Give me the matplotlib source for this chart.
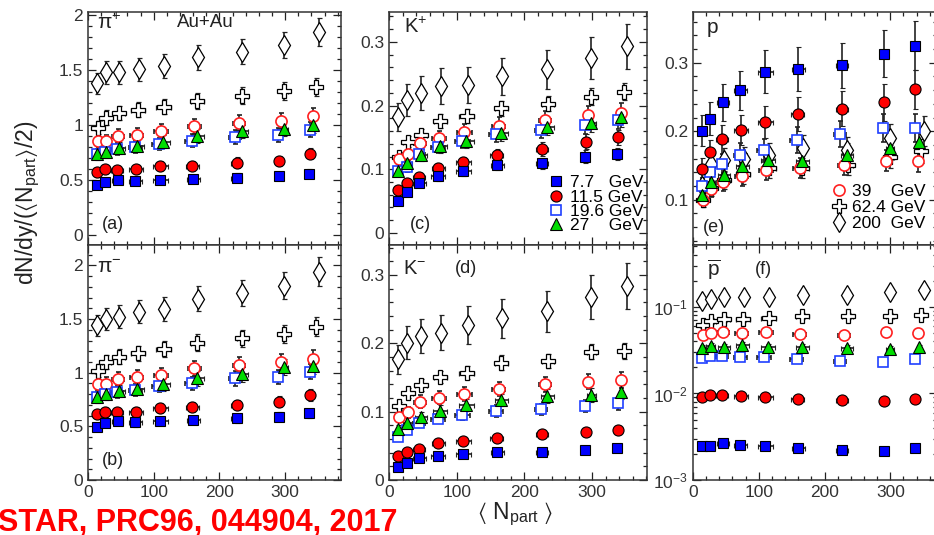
import matplotlib
matplotlib.use('Agg')
import matplotlib.pyplot as plt
from matplotlib.ticker import MultipleLocator, FormatStrFormatter, LogLocator, NullFormatter
from matplotlib.lines import Line2D

plt.rcParams['font.family'] = ['Liberation Sans', 'DejaVu Sans']
plt.rcParams['mathtext.fontset'] = 'custom'
plt.rcParams['mathtext.rm'] = 'Liberation Sans'
plt.rcParams['mathtext.it'] = 'Liberation Sans:italic'
plt.rcParams['mathtext.bf'] = 'Liberation Sans:bold'
plt.rcParams['mathtext.fallback'] = 'stixsans'

# ---- data -------------------------------------------------------------------
energies = ['7.7', '11.5', '19.6', '27', '39', '62.4', '200']

npart = {
    '7.7':  [14, 26, 45, 72, 110, 160, 226, 290, 337],
    '11.5': [14, 26, 44, 73, 110, 159, 226, 291, 338],
    '19.6': [14, 26, 44, 72, 108, 158, 224, 289, 338],
    '27':   [14, 27, 47, 75, 114, 166, 234, 299, 343],
    '39':   [15, 28, 46, 74, 111, 162, 230, 294, 342],
    '62.4': [15, 28, 47, 76, 115, 166, 235, 299, 347],
    '200':  [14, 27, 47, 77, 116, 167, 234, 299, 351],
}
npart_err = [4, 7, 9, 10, 11, 10, 9, 6, 2]

pi_plus = {
    '7.7':  [0.46, 0.485, 0.50, 0.49, 0.50, 0.515, 0.524, 0.54, 0.56],
    '11.5': [0.57, 0.597, 0.59, 0.597, 0.627, 0.63, 0.66, 0.676, 0.74],
    '19.6': [0.736, 0.758, 0.78, 0.80, 0.83, 0.858, 0.89, 0.91, 0.96],
    '27':   [0.736, 0.758, 0.79, 0.81, 0.85, 0.90, 0.95, 0.97, 1.0],
    '39':   [0.855, 0.855, 0.90, 0.91, 0.945, 0.99, 1.02, 1.04, 1.08],
    '62.4': [0.976, 1.07, 1.11, 1.14, 1.17, 1.22, 1.27, 1.31, 1.35],
    '200':  [1.38, 1.48, 1.48, 1.51, 1.54, 1.62, 1.67, 1.73, 1.85],
}
pi_minus = {
    '7.7':  [0.496, 0.533, 0.549, 0.536, 0.549, 0.558, 0.574, 0.589, 0.62],
    '11.5': [0.614, 0.636, 0.63, 0.636, 0.673, 0.68, 0.70, 0.73, 0.79],
    '19.6': [0.775, 0.80, 0.82, 0.84, 0.877, 0.90, 0.946, 0.96, 1.01],
    '27':   [0.775, 0.80, 0.83, 0.85, 0.89, 0.946, 0.986, 1.05, 1.06],
    '39':   [0.893, 0.893, 0.94, 0.96, 0.977, 1.04, 1.07, 1.10, 1.13],
    '62.4': [1.017, 1.10, 1.15, 1.18, 1.22, 1.28, 1.32, 1.36, 1.43],
    '200':  [1.44, 1.50, 1.52, 1.57, 1.59, 1.69, 1.74, 1.81, 1.94],
}
k_plus = {
    '7.7':  [0.0496, 0.0636, 0.079, 0.0887, 0.0965, 0.107, 0.1095, 0.12, 0.124],
    '11.5': [0.0668, 0.078, 0.0876, 0.1017, 0.1106, 0.1226, 0.132, 0.1435, 0.15],
    '19.6': [0.0965, 0.104, 0.124, 0.1356, 0.145, 0.155, 0.1617, 0.1695, 0.177],
    '27':   [0.0965, 0.1095, 0.1226, 0.1367, 0.145, 0.1565, 0.167, 0.172, 0.1815],
    '39':   [0.1158, 0.124, 0.142, 0.1487, 0.159, 0.168, 0.178, 0.185, 0.189],
    '62.4': [0.12, 0.143, 0.154, 0.176, 0.184, 0.196, 0.203, 0.214, 0.222],
    '200':  [0.1815, 0.2087, 0.22, 0.2306, 0.232, 0.246, 0.2567, 0.2754, 0.293],
}
k_minus = {
    '7.7':  [0.0185, 0.0254, 0.0317, 0.0351, 0.038, 0.0415, 0.0415, 0.0439, 0.0463],
    '11.5': [0.035, 0.0415, 0.046, 0.0546, 0.0576, 0.061, 0.0668, 0.0707, 0.073],
    '19.6': [0.0634, 0.073, 0.084, 0.090, 0.095, 0.101, 0.1034, 0.108, 0.112],
    '27':   [0.074, 0.084, 0.0927, 0.101, 0.1098, 0.117, 0.123, 0.1244, 0.129],
    '39':   [0.0927, 0.099, 0.1146, 0.1205, 0.126, 0.133, 0.14, 0.144, 0.147],
    '62.4': [0.108, 0.127, 0.139, 0.151, 0.157, 0.172, 0.174, 0.188, 0.189],
    '200':  [0.1766, 0.201, 0.211, 0.2156, 0.2268, 0.2366, 0.247, 0.268, 0.284],
}
proton = {
    '7.7':  [0.201, 0.218, 0.242, 0.26, 0.287, 0.291, 0.296, 0.313, 0.325],
    '11.5': [0.145, 0.169, 0.188, 0.202, 0.214, 0.225, 0.233, 0.242, 0.261],
    '19.6': [0.12, 0.14, 0.152, 0.166, 0.172, 0.187, 0.196, 0.205, 0.205],
    '27':   [0.107, 0.126, 0.136, 0.15, 0.158, 0.156, 0.166, 0.176, 0.185],
    '39':   [0.10, 0.115, 0.126, 0.134, 0.143, 0.146, 0.151, 0.157, 0.156],
    '62.4': [0.10, 0.117, 0.129, 0.137, 0.146, 0.146, 0.151, 0.163, 0.171],
    '200':  [0.12, 0.152, 0.158, 0.16, 0.165, 0.175, 0.172, 0.19, 0.2],
}
antiproton = {
    '7.7':  [0.00247, 0.00247, 0.0027, 0.00253, 0.00247, 0.00232, 0.00222, 0.00218, 0.00232],
    '11.5': [0.0092, 0.0096, 0.0096, 0.0093, 0.0092, 0.0087, 0.0085, 0.0082, 0.0087],
    '19.6': [0.026, 0.027, 0.027, 0.0265, 0.0265, 0.0247, 0.0238, 0.0232, 0.0247],
    '27':   [0.0336, 0.0355, 0.0347, 0.0367, 0.0347, 0.0347, 0.0336, 0.033, 0.034],
    '39':   [0.047, 0.05, 0.0515, 0.05, 0.0515, 0.0484, 0.047, 0.0515, 0.05],
    '62.4': [0.0616, 0.069, 0.072, 0.073, 0.075, 0.078, 0.078, 0.078, 0.080],
    '200':  [0.117, 0.125, 0.130, 0.130, 0.130, 0.136, 0.136, 0.149, 0.155],
}

# relative uncertainty per energy
err_pi = {'7.7': 0.07, '11.5': 0.07, '19.6': 0.07, '27': 0.07, '39': 0.07, '62.4': 0.06, '200': 0.07}
err_k = {'7.7': 0.08, '11.5': 0.08, '19.6': 0.08, '27': 0.08, '39': 0.08, '62.4': 0.06, '200': 0.12}
err_p = {'7.7': 0.11, '11.5': 0.11, '19.6': 0.10, '27': 0.10, '39': 0.10, '62.4': 0.10, '200': 0.11}
err_pbar = {'7.7': 0.08, '11.5': 0.08, '19.6': 0.08, '27': 0.08, '39': 0.08, '62.4': 0.08, '200': 0.08}

# marker style per energy
style = {
    '7.7':  dict(marker='s', ms=7.5, mfc='#0000ff', mec='black', mew=0.8),
    '11.5': dict(marker='o', ms=8, mfc='#ff0000', mec='black', mew=0.8),
    '19.6': dict(marker='s', ms=7.5, mfc='white', mec='#1f3fff', mew=1.2),
    '27':   dict(marker='^', ms=9, mfc='#00dd00', mec='black', mew=0.8),
    '39':   dict(marker='o', ms=8, mfc='white', mec='#ff2020', mew=1.2),
    '62.4': dict(marker='P', ms=10, mfc='white', mec='black', mew=0.9),
    '200':  dict(marker='d', ms=10, mfc='white', mec='black', mew=0.9),
}
draw_order = ['200', '62.4', '39', '19.6', '27', '11.5', '7.7']

# ---- figure -----------------------------------------------------------------
W, H = 934, 535
fig = plt.figure(figsize=(W / 100, H / 100), dpi=100)

cols = [(88, 341, 385), (389, 647, 381), (693, 937, 371)]  # left px, right px, xmax
rows = [(12, 245), (245, 480)]  # top px, bottom px


def make_ax(c, r):
    x0, x1, xmax = cols[c]
    t, b = rows[r]
    ax = fig.add_axes([x0 / W, (H - b) / H, (x1 - x0) / W, (b - t) / H])
    ax.set_xlim(0, xmax)
    ax.xaxis.set_major_locator(MultipleLocator(100))
    ax.xaxis.set_minor_locator(MultipleLocator(20))
    ax.tick_params(which='both', direction='in', top=True, right=True,
                   labelsize=12.5, width=0.9, colors='#222222', labelcolor='#333333')
    ax.tick_params(which='major', length=6)
    ax.tick_params(which='minor', length=3)
    for s in ax.spines.values():
        s.set_linewidth(1.1)
        s.set_color('#333333')
    if r == 0:
        ax.tick_params(labelbottom=False)
    return ax


def draw(ax, panel, rel):
    for e in draw_order:
        y = panel[e]
        yerr = [v * rel[e] for v in y]
        xerr = None if e == '200' else npart_err
        ax.errorbar(npart[e], y, yerr=yerr, xerr=xerr, ls='none',
                    ecolor='#222222', elinewidth=1.2, capsize=1.8, capthick=1.0,
                    zorder=3, **style[e])


ax_a = make_ax(0, 0)
ax_b = make_ax(0, 1)
ax_c = make_ax(1, 0)
ax_d = make_ax(1, 1)
ax_e = make_ax(2, 0)
ax_f = make_ax(2, 1)

draw(ax_a, pi_plus, err_pi)
draw(ax_b, pi_minus, err_pi)
draw(ax_c, k_plus, err_k)
draw(ax_d, k_minus, err_k)
draw(ax_e, proton, err_p)
draw(ax_f, antiproton, err_pbar)

fmt = FormatStrFormatter('%g')
for ax, lo, hi, major, minor in [(ax_a, -0.09, 2.03, 0.5, 0.1),
                                 (ax_b, 0, 2.19, 0.5, 0.1),
                                 (ax_c, -0.019, 0.347, 0.1, 0.02),
                                 (ax_d, 0, 0.344, 0.1, 0.02),
                                 (ax_e, 0.034, 0.374, 0.1, 0.02)]:
    ax.set_ylim(lo, hi)
    ax.yaxis.set_major_locator(MultipleLocator(major))
    ax.yaxis.set_minor_locator(MultipleLocator(minor))
    ax.yaxis.set_major_formatter(fmt)

ax_f.set_yscale('log')
ax_f.set_ylim(1e-3, 0.52)
ax_f.yaxis.set_major_locator(LogLocator(base=10))
ax_f.yaxis.set_minor_locator(LogLocator(base=10, subs=range(2, 10)))
ax_f.yaxis.set_minor_formatter(NullFormatter())

# panel labels
txt = dict(color='#222222', va='center', ha='left')
ax_a.text(0.036, 0.955, r'π$^{+}$', transform=ax_a.transAxes, fontsize=15, **txt)
ax_a.text(0.462, 0.957, 'Au+Au', transform=ax_a.transAxes, fontsize=13.5,
          color='#222222', va='center', ha='center')
ax_a.text(0.055, 0.086, '(a)', transform=ax_a.transAxes, fontsize=13, **txt)
ax_b.text(0.036, 0.906, r'π$^{-}$', transform=ax_b.transAxes, fontsize=15, **txt)
ax_b.text(0.055, 0.085, '(b)', transform=ax_b.transAxes, fontsize=13, **txt)
ax_c.text(0.058, 0.935, r'K$^{+}$', transform=ax_c.transAxes, fontsize=14.5, **txt)
ax_c.text(0.081, 0.086, '(c)', transform=ax_c.transAxes, fontsize=13, **txt)
ax_d.text(0.054, 0.902, r'K$^{-}$', transform=ax_d.transAxes, fontsize=14.5, **txt)
ax_d.text(0.256, 0.902, '(d)', transform=ax_d.transAxes, fontsize=13, **txt)
ax_e.text(0.057, 0.935, 'p', transform=ax_e.transAxes, fontsize=15, **txt)
ax_e.text(0.041, 0.073, '(e)', transform=ax_e.transAxes, fontsize=13, **txt)
ax_f.text(0.057, 0.894, r'$\overline{\mathregular{p}}$', transform=ax_f.transAxes, fontsize=15, **txt)
ax_f.text(0.254, 0.894, '(f)', transform=ax_f.transAxes, fontsize=13, **txt)


def handle(e):
    return Line2D([], [], ls='none', **style[e])


leg_kw = dict(frameon=False, fontsize=12.5, handlelength=0.8, handletextpad=0.4,
              borderaxespad=0, borderpad=0)
ax_c.legend([handle(e) for e in ['7.7', '11.5', '19.6', '27']],
            ['7.7   GeV', '11.5 GeV', '19.6 GeV', '27    GeV'],
            loc='lower right', bbox_to_anchor=(0.985, 0.05), labelspacing=-0.05, **leg_kw)
ax_e.legend([handle(e) for e in ['39', '62.4', '200']],
            ['39    GeV', '62.4 GeV', '200  GeV'],
            loc='lower right', bbox_to_anchor=(0.955, 0.06), labelspacing=0.05, **leg_kw)

# axis titles
fig.text(0.03, 0.62, r'dN/dy/($\langle$N$_{\mathregular{part}}$$\rangle$/2)',
         rotation=90, fontsize=16.5, ha='center', va='center', color='#222222')
fig.text(0.551, 0.03, r'$\langle$ N$_{\mathregular{part}}$ $\rangle$',
         fontsize=16.5, ha='center', va='baseline', color='#222222')

fig.text(-0.002, 0.008, 'STAR, PRC96, 044904, 2017', fontsize=22,
         fontweight='bold', color='#ff0000', ha='left', va='baseline')

fig.savefig('out.png', dpi=100)
